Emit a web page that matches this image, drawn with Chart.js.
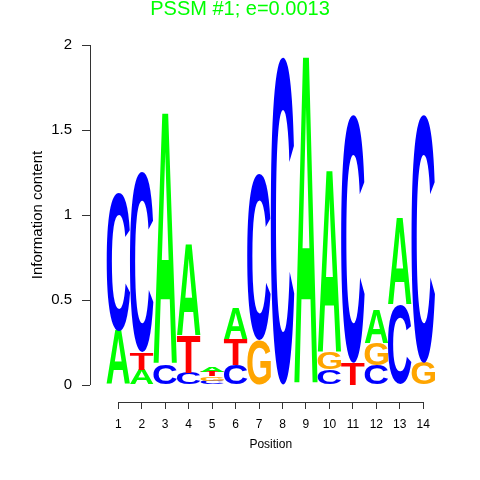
<!DOCTYPE html>
<html>
<head>
<meta charset="utf-8">
<script src="https://cdn.jsdelivr.net/npm/chart.js@4.4.0/dist/chart.umd.min.js"></script>
<style>
  html, body { margin: 0; padding: 0; background: #fff; }
</style>
</head>
<body>
<canvas id="logo" width="480" height="480"></canvas>
<script>
const positions = [1, 2, 3, 4, 5, 6, 7, 8, 9, 10, 11, 12, 13, 14];
const yTicks = [0, 0.5, 1, 1.5, 2];
const bases = ['A', 'C', 'G', 'T'];

// information content of each letter per position (bits)
const infoA = [0.32, 0.09, 1.48, 0.54, 0.030, 0.18, 0, 0, 1.93, 1.07, 0, 0.20, 0.51, 0];
const infoC = [0.815, 1.065, 0.12, 0.07, 0.025, 0.12, 0.975, 1.93, 0, 0.09, 1.46, 0.118, 0.47, 1.46];
const infoG = [0, 0, 0, 0, 0.026, 0, 0.265, 0, 0, 0.10, 0, 0.13, 0, 0.13];
const infoT = [0, 0.10, 0, 0.22, 0.027, 0.15, 0, 0, 0, 0, 0.13, 0, 0, 0];

const baseColors = { A: '#00FF00', C: '#0000FF', G: '#FFA500', T: '#FF0000' };
const FONT = '"Liberation Sans", Arial, Helvetica, sans-serif';

const infoByBase = { A: infoA, C: infoC, G: infoG, T: infoT };

// one stack per position, smallest letter at the bottom
const stacks = positions.map((p, i) =>
    bases.map(b => ({ base: b, h: infoByBase[b][i] }))
        .filter(s => s.h > 0)
        .sort((a, b) => a.h - b.h));

const layerCount = Math.max(...stacks.map(s => s.length));
const datasets = [];
for (let k = 0; k < layerCount; k++) {
    datasets.push({
        data: positions.map((p, i) => ({ x: p, y: stacks[i][k] ? stacks[i][k].h : 0 })),
        letters: positions.map((p, i) => stacks[i][k] ? stacks[i][k].base : null),
        backgroundColor: 'rgba(0,0,0,0)',
        borderWidth: 0,
        barPercentage: 1,
        categoryPercentage: 1
    });
}

// stretch each letter glyph into its bar rectangle
const letterPlugin = {
    id: 'letters',
    afterDatasetsDraw(chart) {
        const ctx = chart.ctx;
        ctx.save();
        ctx.font = 'bold 200px ' + FONT;
        ctx.textAlign = 'left';
        ctx.textBaseline = 'alphabetic';
        chart.data.datasets.forEach((ds, di) => {
            chart.getDatasetMeta(di).data.forEach((bar, i) => {
                const letter = ds.letters[i];
                if (!letter) return;
                const { x, y, base, width } = bar.getProps(['x', 'y', 'base', 'width'], true);
                const h = base - y;
                if (h < 0.5) return;
                const m = ctx.measureText(letter);
                const gw = m.actualBoundingBoxLeft + m.actualBoundingBoxRight;
                const gh = m.actualBoundingBoxAscent + m.actualBoundingBoxDescent;
                ctx.save();
                ctx.translate(x - width / 2, y);
                ctx.scale(width / gw, h / gh);
                ctx.fillStyle = baseColors[letter];
                ctx.fillText(letter, m.actualBoundingBoxLeft, m.actualBoundingBoxAscent);
                ctx.restore();
            });
        });
        ctx.restore();
    }
};

// R style axes: lines only between first and last tick, titles centred on them
const axisPlugin = {
    id: 'rAxes',
    afterDraw(chart) {
        const ctx = chart.ctx;
        const xs = chart.scales.x, ys = chart.scales.y;
        const area = chart.chartArea;
        const x1 = xs.getPixelForValue(positions[0]);
        const x2 = xs.getPixelForValue(positions[positions.length - 1]);
        const y1 = ys.getPixelForValue(yTicks[0]);
        const y2 = ys.getPixelForValue(yTicks[yTicks.length - 1]);
        const ax = Math.round(area.left) + 0.5;
        const ay = Math.round(area.bottom) + 0.5;
        ctx.save();
        ctx.strokeStyle = '#333';
        ctx.lineWidth = 1;
        ctx.beginPath();
        ctx.moveTo(x1, ay); ctx.lineTo(x2, ay);
        ctx.moveTo(ax, y1); ctx.lineTo(ax, y2);
        ctx.stroke();

        ctx.fillStyle = '#000';
        ctx.textAlign = 'center';
        ctx.textBaseline = 'middle';
        ctx.font = '12px ' + FONT;
        ctx.fillText('Position', (x1 + x2) / 2, area.bottom + 43);
        ctx.translate(area.left - 52, (y1 + y2) / 2);
        ctx.rotate(-Math.PI / 2);
        ctx.font = '15px ' + FONT;
        ctx.fillText('Information content', 0, 0);
        ctx.restore();
    }
};

new Chart(document.getElementById('logo'), {
    type: 'bar',
    data: { datasets: datasets },
    plugins: [letterPlugin, axisPlugin],
    options: {
        responsive: false,
        devicePixelRatio: 1,
        animation: false,
        layout: { padding: 0 },
        plugins: {
            legend: { display: false },
            tooltip: { enabled: false },
            title: {
                display: true,
                text: 'PSSM #1; e=0.0013',
                color: '#00FF00',
                font: { size: 20, family: FONT, weight: 'normal', lineHeight: 0.95 },
                padding: { top: 0, bottom: 26 }
            }
        },
        scales: {
            x: {
                type: 'linear',
                min: -0.206,
                max: 16.42,
                offset: false,
                stacked: true,
                afterBuildTicks: s => { s.ticks = positions.map(v => ({ value: v })); },
                afterFit: s => { s.height = 78; },
                grid: { offset: false, drawOnChartArea: false, drawTicks: true, tickLength: 7, color: '#333' },
                border: { display: false },
                ticks: { color: '#000', font: { size: 12, family: FONT }, padding: 8, maxRotation: 0, autoSkip: false }
            },
            y: {
                min: -0.1,
                max: 2,
                stacked: true,
                afterBuildTicks: s => { s.ticks = yTicks.map(v => ({ value: v })); },
                afterFit: s => { s.width = 90; },
                grid: { drawOnChartArea: false, drawTicks: true, tickLength: 8, color: '#333' },
                border: { display: false },
                ticks: {
                    color: '#000',
                    font: { size: 15, family: FONT },
                    padding: 10,
                    callback: v => String(v)
                }
            }
        }
    }
});
</script>
</body>
</html>
